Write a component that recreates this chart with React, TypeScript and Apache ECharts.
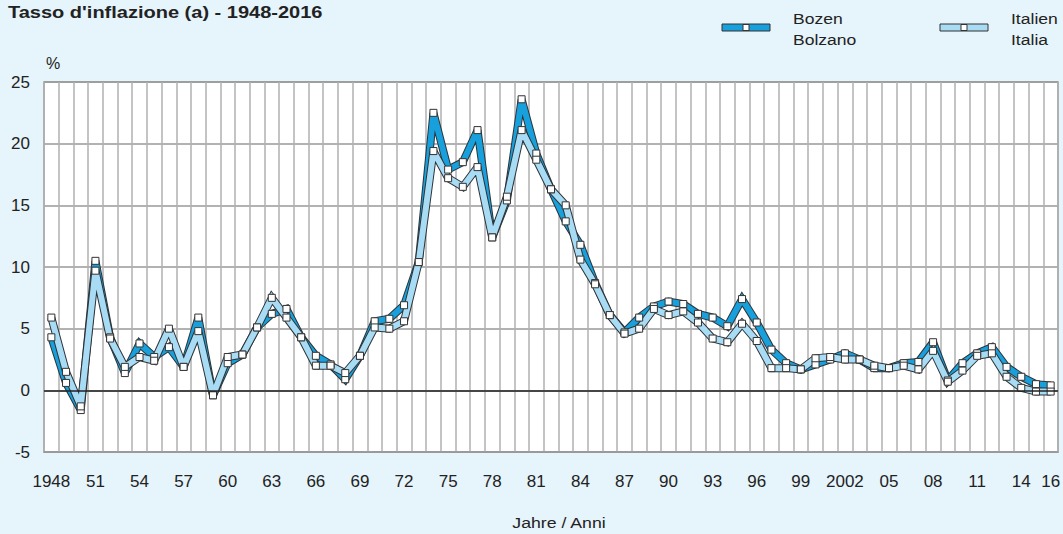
import React, { useEffect, useRef } from "react";
import * as echarts from "echarts";

const years: number[] = [];
for (let y = 1948; y <= 2016; y++) years.push(y);

const bozen: number[] = [
  4.3, 0.6, -1.6, 10.5, 4.3, 1.4, 3.8, 2.7, 3.5, 1.9,
  5.9, -0.4, 2.2, 2.9, 5.1, 6.2, 6.6, 4.3, 2.8, 2.1,
  0.9, 2.8, 5.6, 5.8, 6.9, 10.4, 22.5, 17.9, 18.5, 21.1,
  12.4, 15.4, 23.6, 19.2, 16.3, 13.7, 11.8, 8.7, 6.1, 4.7,
  5.9, 6.8, 7.2, 7.0, 6.2, 5.9, 5.2, 7.4, 5.5, 3.3,
  2.2, 1.7, 2.1, 2.5, 3.0, 2.5, 1.8, 1.8, 2.2, 2.3,
  3.9, 0.8, 2.2, 3.0, 3.5, 1.9, 1.1, 0.5, 0.4,
];

const italien: number[] = [
  5.9, 1.5, -1.3, 9.7, 4.2, 1.9, 2.7, 2.4, 5.0, 1.9,
  4.8, -0.4, 2.7, 2.9, 5.1, 7.5, 5.9, 4.3, 2.0, 2.0,
  1.4, 2.8, 5.1, 5.0, 5.6, 10.4, 19.4, 17.2, 16.5, 18.1,
  12.4, 15.7, 21.1, 18.7, 16.3, 15.0, 10.6, 8.6, 6.1, 4.6,
  5.0, 6.6, 6.1, 6.4, 5.5, 4.2, 3.9, 5.4, 4.0, 1.8,
  1.8, 1.7, 2.6, 2.7, 2.5, 2.5, 2.0, 1.8, 2.0, 1.7,
  3.2, 0.7, 1.6, 2.8, 3.0, 1.1, 0.2, -0.1, -0.1,
];

const labelledYears: number[] = [
  1948, 1951, 1954, 1957, 1960, 1963, 1966, 1969, 1972, 1975, 1978, 1981,
  1984, 1987, 1990, 1993, 1996, 1999, 2002, 2005, 2008, 2011, 2014, 2016,
];
const fullYearLabels: number[] = [1948, 2002];

const TITLE = "Tasso d'inflazione (a) - 1948-2016";
const X_NAME = "Jahre / Anni";
const BOZEN_NAME = ["Bozen", "Bolzano"];
const ITALIEN_NAME = ["Italien", "Italia"];

const C_BOZEN = "#17a0dc";
const C_ITALIEN = "#a8dcf4";
const C_OUTLINE = "#2e3338";
const BG = "#e6f4fb";
const FONT = "'Liberation Sans', Arial, sans-serif";

function lineSeries(name: string, data: number[], color: string, width: number, withSymbols: boolean, extra: any = {}) {
  return {
    name,
    type: "line",
    data,
    symbol: withSymbols ? "rect" : "none",
    symbolSize: 7,
    showSymbol: withSymbols,
    itemStyle: { color: "#ffffff", borderColor: "#333", borderWidth: 1 },
    lineStyle: { color, width, join: "miter", miterLimit: 2, cap: "butt" },
    emphasis: { disabled: true },
    ...extra,
  };
}

function legendItem(x: number, color: string, names: string[]) {
  return [
    { type: "rect", shape: { x, y: 24, width: 48, height: 7 }, style: { fill: color, stroke: "#333", lineWidth: 1 } },
    { type: "rect", shape: { x: x + 21, y: 24.5, width: 6, height: 6 }, style: { fill: "#fff", stroke: "#333", lineWidth: 1 } },
    { type: "text", x: x + 71, y: 18, scaleX: 1.17, style: { text: names[0], font: `15px ${FONT}`, fill: "#222", textVerticalAlign: "middle" } },
    { type: "text", x: x + 71, y: 39, scaleX: 1.17, style: { text: names[1], font: `15px ${FONT}`, fill: "#222", textVerticalAlign: "middle" } },
  ];
}

export default function App() {
  const ref = useRef<HTMLDivElement>(null);
  useEffect(() => {
    if (!ref.current) return;
    const chart = echarts.init(ref.current, null, { renderer: "svg" });
    chart.setOption({
      animation: false,
      backgroundColor: BG,
      grid: {
        left: 44, right: 5, top: 82, bottom: 82,
        containLabel: false,
        outerBoundsMode: "none",
        show: true, backgroundColor: "#ffffff", borderColor: "#999", borderWidth: 1.5,
      },
      xAxis: {
        type: "category",
        data: years.map(String),
        boundaryGap: true,
        axisLine: { show: true, onZero: false, lineStyle: { color: "#999", width: 1.5 } },
        axisTick: { show: false },
        axisLabel: {
          interval: (_i: number, v: string) => labelledYears.includes(Number(v)),
          formatter: (v: string) => {
            const y = Number(v);
            return fullYearLabels.includes(y) ? String(y) : String(y % 100).padStart(2, "0");
          },
          margin: 21,
          fontFamily: FONT,
          fontSize: 17,
          color: "#222",
        },
        splitLine: { show: true, interval: 0, lineStyle: { color: "#b0b0b0", width: 1.5 } },
      },
      yAxis: {
        type: "value",
        min: -5, max: 25, interval: 5,
        axisLine: { show: false },
        axisTick: { show: false },
        axisLabel: { margin: 14, fontFamily: FONT, fontSize: 17, color: "#222" },
        splitLine: { show: true, lineStyle: { color: "#999", width: 1.5 } },
      },
      graphic: [
        { type: "text", x: 8, y: 5, scaleX: 1.25, style: { text: TITLE, font: `bold 16px ${FONT}`, fill: "#222" } },
        { type: "text", x: 46, y: 55, style: { text: "%", font: `16px ${FONT}`, fill: "#222" } },
        { type: "text", x: 559, y: 523, scaleX: 1.18, style: { text: X_NAME, font: `15px ${FONT}`, fill: "#222", textAlign: "center", textVerticalAlign: "middle" } },
        ...legendItem(722, C_BOZEN, BOZEN_NAME),
        ...legendItem(940, C_ITALIEN, ITALIEN_NAME),
      ],
      series: [
        lineSeries("Bozen outline", bozen, C_OUTLINE, 8, false, {
          markLine: {
            silent: true,
            symbol: ["none", "none"],
            label: { show: false },
            lineStyle: { color: "#222", width: 1.5, type: "solid" },
            data: [{ yAxis: 0 }],
          },
        }),
        lineSeries("Bozen / Bolzano", bozen, C_BOZEN, 6, true),
        lineSeries("Italien outline", italien, C_OUTLINE, 8, false),
        lineSeries("Italien / Italia", italien, C_ITALIEN, 6, true),
      ],
    });
    return () => chart.dispose();
  }, []);
  return <div ref={ref} style={{ position: "fixed", left: 0, top: 0, width: 1063, height: 534 }} />;
}
